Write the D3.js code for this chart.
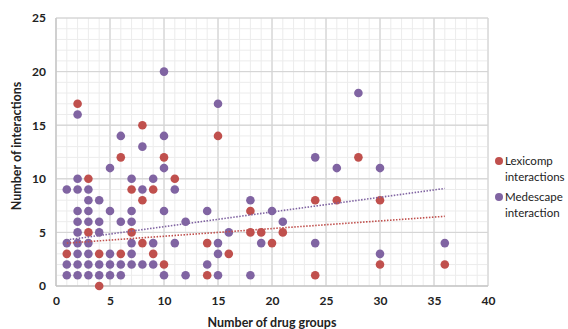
<!DOCTYPE html>
<html><head><meta charset="utf-8">
<script src="https://cdn.jsdelivr.net/npm/d3@7"></script>
<style>body{margin:0;background:#fff;} svg{display:block;font-family:Lato,"Open Sans",sans-serif;}</style>
</head><body><svg id="c" width="568" height="329"></svg>
<script>
const seriesNames = ["Lexicomp interactions", "Medescape interaction"];
const lexicompX = [2,8,6,10,3,11,7,9,8,3,7,8,1,4,6,9,10,4,15,14,18,18,19,21,20,16,30,14,24,28,24,26,30,36];
const lexicompY = [17,15,12,12,10,10,9,9,8,5,5,4,3,3,3,3,2,0,14,4,7,5,5,5,4,3,2,1,1,12,8,8,8,2];
const medescapeX = [2,10,6,10,8,15,28,10,5,2,7,9,1,2,3,8,11,3,4,2,3,5,7,10,2,3,4,6,7,12,2,4,1,2,3,7,9,11,2,3,5,7,1,2,3,4,5,6,7,8,9,1,2,3,4,5,6,10,12,24,26,30,18,14,20,21,16,15,19,24,15,30,14,15,18,36];
const medescapeY = [16,20,14,14,13,17,18,11,11,10,10,10,9,9,9,9,9,8,8,7,7,7,7,7,6,6,6,6,6,6,5,5,4,4,4,4,4,4,3,3,3,3,2,2,2,2,2,2,2,2,2,1,1,1,1,1,1,1,1,12,11,11,8,7,7,6,5,4,4,4,3,3,2,1,1,4];
// trendline endpoints [x, y]
const lexicompTrend = [[1,4.0],[36,6.5]];
const medescapeTrend = [[1,4.3],[36,9.1]];
const xTicks = [0,5,10,15,20,25,30,35,40];
const yTicks = [0,5,10,15,20,25];
const colors = ["#c0504d","#8064a2"];

const svg = d3.select("#c");
const L=56, R=488, T=18, B=286;
const x = d3.scaleLinear().domain([0,40]).range([L,R]);
const y = d3.scaleLinear().domain([0,25]).range([B,T]);

// minor grid
const g = svg.append("g");
g.selectAll(".mx").data(d3.range(0,41)).enter().append("line")
  .attr("x1",d=>x(d)).attr("x2",d=>x(d)).attr("y1",T).attr("y2",B)
  .attr("stroke",d=>d%5===0?"#d6d6d6":"#ececec").attr("stroke-width",1);
g.selectAll(".my").data(d3.range(0,26)).enter().append("line")
  .attr("y1",d=>y(d)).attr("y2",d=>y(d)).attr("x1",L).attr("x2",R)
  .attr("stroke",d=>d%5===0?"#d6d6d6":"#ececec").attr("stroke-width",1);
// redraw major on top
g.selectAll(".Mx").data(xTicks).enter().append("line")
  .attr("x1",d=>x(d)).attr("x2",d=>x(d)).attr("y1",T).attr("y2",B)
  .attr("stroke","#d6d6d6");
g.selectAll(".My").data(yTicks).enter().append("line")
  .attr("y1",d=>y(d)).attr("y2",d=>y(d)).attr("x1",L).attr("x2",R)
  .attr("stroke","#d6d6d6");
svg.append("line").attr("x1",L).attr("x2",R).attr("y1",B).attr("y2",B).attr("stroke","#bfbfbf");
svg.append("line").attr("x1",L).attr("x2",L).attr("y1",T).attr("y2",B).attr("stroke","#bfbfbf");

// axes
const xa = svg.append("g").attr("transform",`translate(0,${B})`)
  .call(d3.axisBottom(x).tickValues(xTicks).tickSize(0).tickPadding(10));
xa.select(".domain").remove();
xa.selectAll("text").attr("font-size",12).attr("font-weight","bold").attr("fill","#222")
  .attr("font-family",'Lato,"Open Sans",sans-serif');
const ya = svg.append("g").attr("transform",`translate(${L},0)`)
  .call(d3.axisLeft(y).tickValues(yTicks).tickSize(0).tickPadding(10));
ya.select(".domain").remove();
ya.selectAll("text").attr("font-size",12).attr("font-weight","bold").attr("fill","#222")
  .attr("font-family",'Lato,"Open Sans",sans-serif');

// points
const lex = lexicompX.map((v,i)=>[v,lexicompY[i]]);
const med = medescapeX.map((v,i)=>[v,medescapeY[i]]);
svg.append("g").selectAll("circle").data(lex).enter().append("circle")
  .attr("cx",d=>x(d[0])).attr("cy",d=>y(d[1])).attr("r",4.3).attr("fill",colors[0]);
svg.append("g").selectAll("circle").data(med).enter().append("circle")
  .attr("cx",d=>x(d[0])).attr("cy",d=>y(d[1])).attr("r",4.3).attr("fill",colors[1]);

// trendlines
const line = d3.line().x(d=>x(d[0])).y(d=>y(d[1]));
svg.append("path").attr("d",line(lexicompTrend)).attr("stroke",colors[0]).attr("stroke-width",1.6)
  .attr("stroke-dasharray","1.5,1.5").attr("fill","none");
svg.append("path").attr("d",line(medescapeTrend)).attr("stroke",colors[1]).attr("stroke-width",1.6)
  .attr("stroke-dasharray","1.5,1.5").attr("fill","none");

// axis titles
svg.append("text").attr("x",x(20)).attr("y",327).attr("text-anchor","middle")
  .attr("font-size",12.5).attr("font-weight","bold").attr("fill","#222").text("Number of drug groups");
svg.append("text").attr("transform",`translate(21,${(T+B)/2 - 6}) rotate(-90)`).attr("text-anchor","middle")
  .attr("font-size",12.5).attr("font-weight","bold").attr("fill","#222").text("Number of interactions");

// legend
const legendLines = [["Lexicomp","interactions"],["Medescape","interaction"]];
const lg = svg.append("g");
legendLines.forEach((ls,i)=>{
  const cy = 161 + i*36;
  lg.append("circle").attr("cx",499).attr("cy",cy).attr("r",4).attr("fill",colors[i]);
  ls.forEach((t,j)=>{
    lg.append("text").attr("x",505).attr("y",cy+4+j*16).attr("font-size",11.5).attr("fill","#222")
      .text(t);
  });
});
</script></body></html>
